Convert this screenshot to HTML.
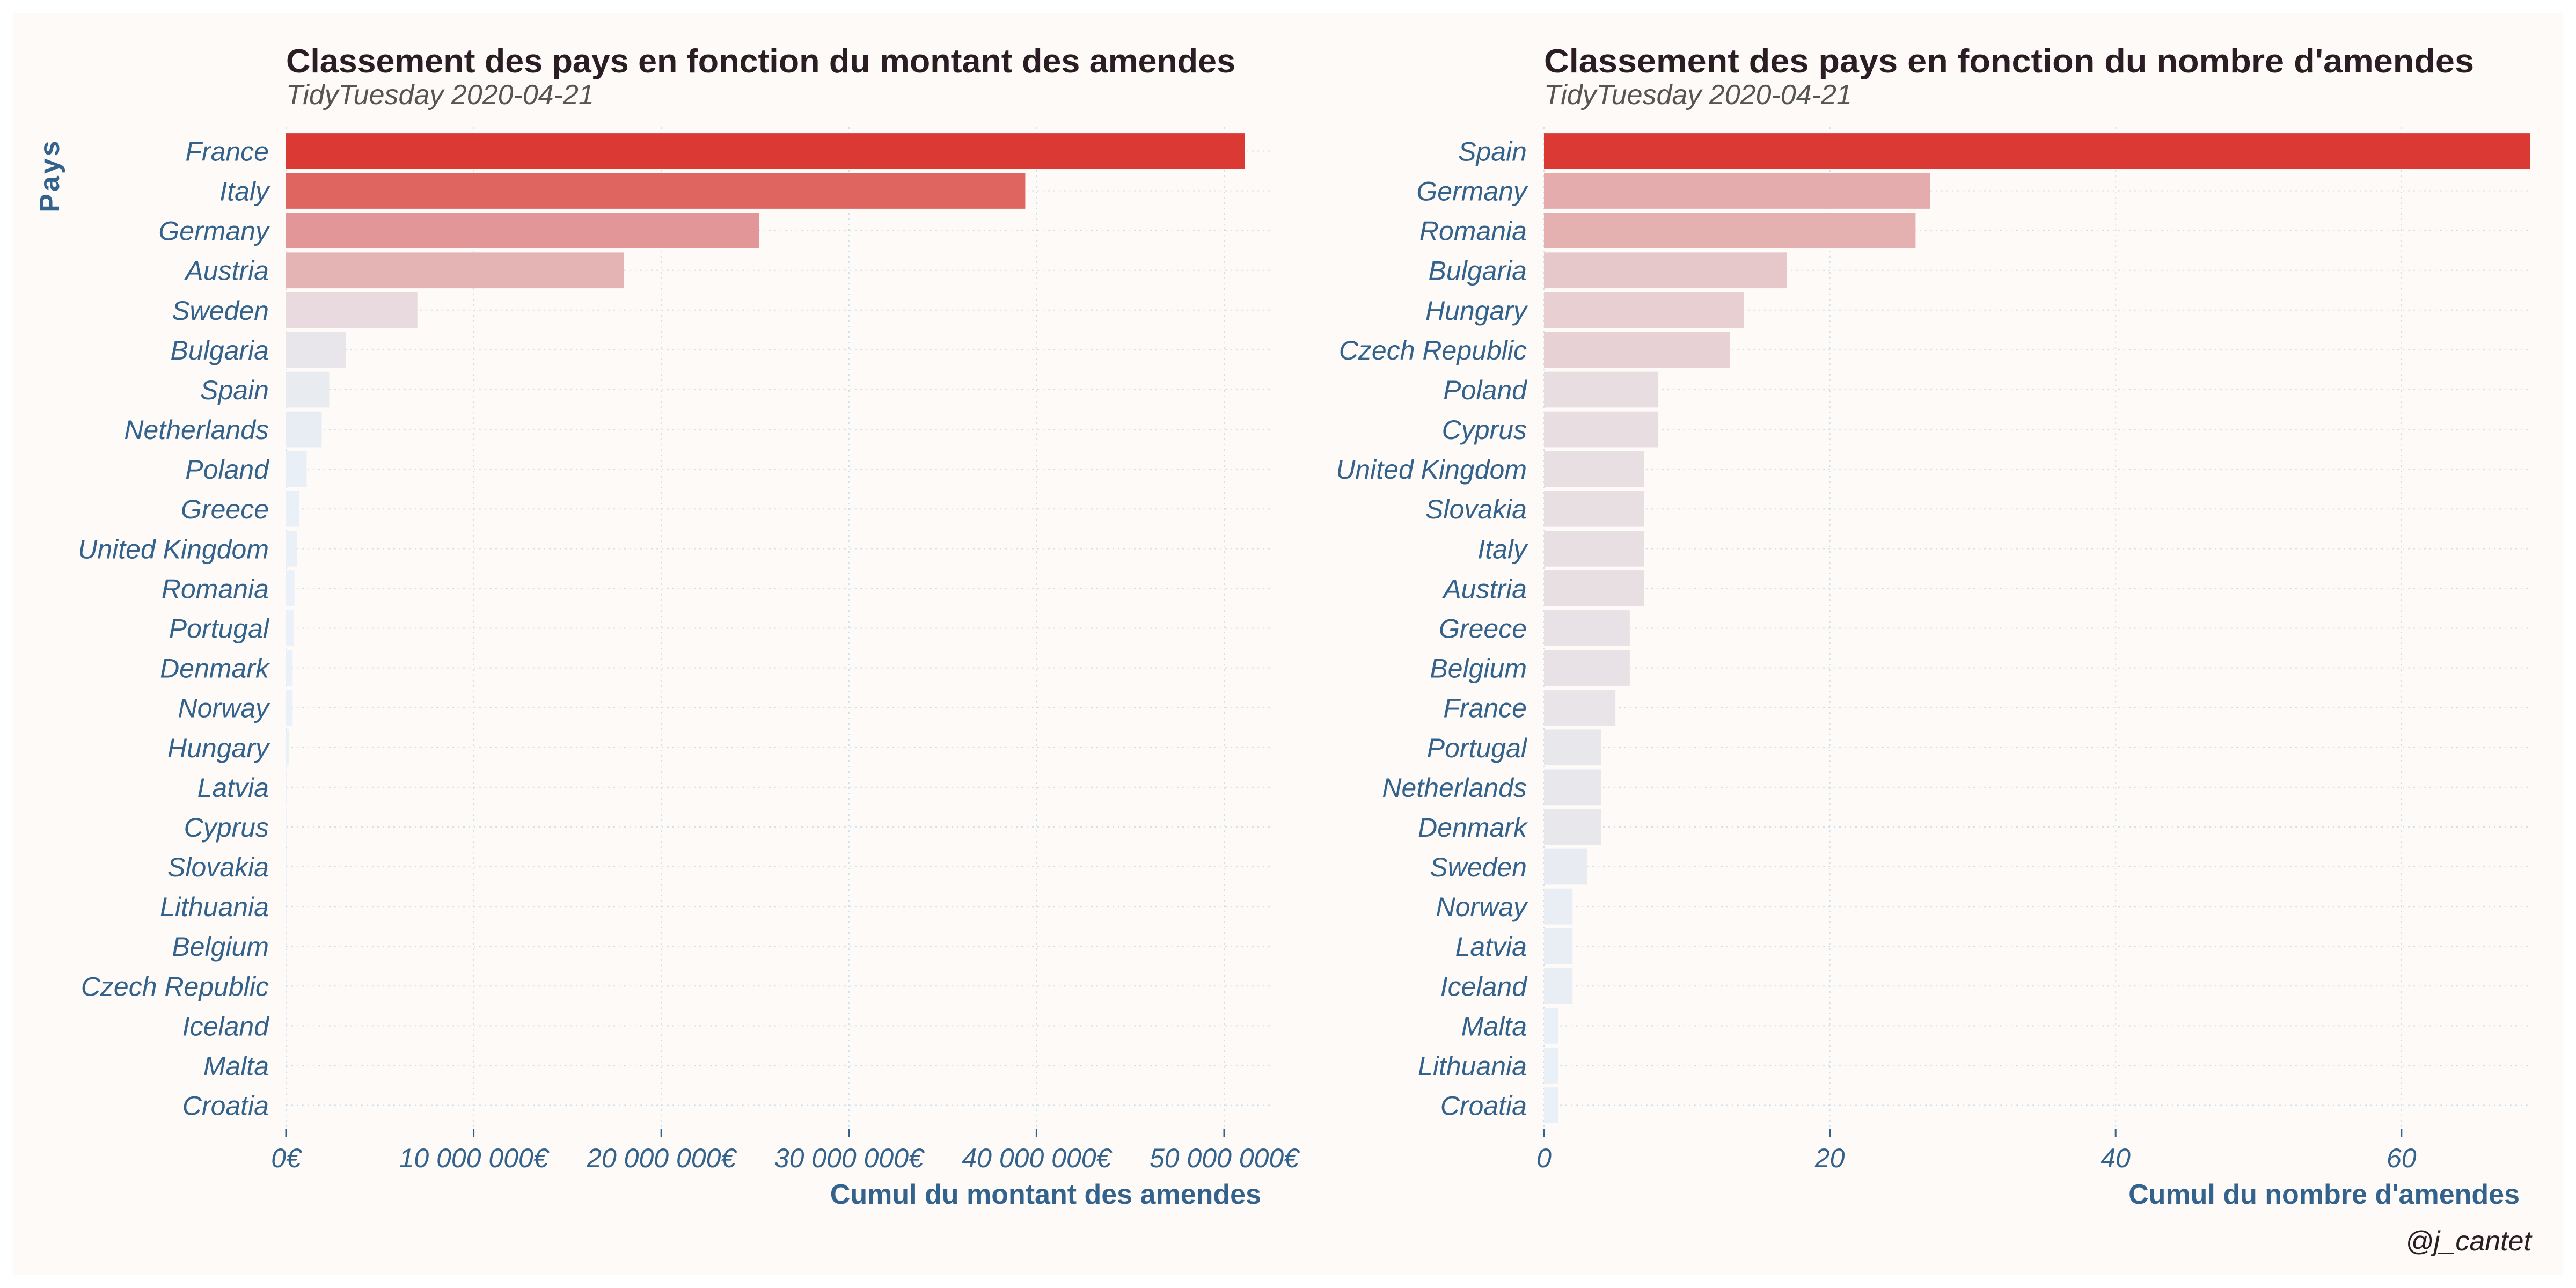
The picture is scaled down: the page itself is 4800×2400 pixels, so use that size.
<!DOCTYPE html>
<html><head><meta charset="utf-8"><style>
html,body{margin:0;padding:0;background:#fff;}
svg{display:block;}
text{font-family:"Liberation Sans",sans-serif;}
</style></head><body>
<svg id="chart" width="4800" height="2400" viewBox="0 0 4800 2400" xmlns="http://www.w3.org/2000/svg">
<rect x="25" y="25" width="4750" height="2350" fill="#fdfaf7"/>
<g id="left"></g><g id="right"></g>
<text x="533" y="135" font-size="62" font-weight="bold" fill="#2b1d24" textLength="1769" lengthAdjust="spacingAndGlyphs">Classement des pays en fonction du montant des amendes</text>
<text x="533" y="194" font-size="52" font-style="italic" fill="#555">TidyTuesday 2020-04-21</text>
<text x="2877" y="135" font-size="62" font-weight="bold" fill="#2b1d24" textLength="1733" lengthAdjust="spacingAndGlyphs">Classement des pays en fonction du nombre d'amendes</text>
<text x="2877" y="194" font-size="52" font-style="italic" fill="#555">TidyTuesday 2020-04-21</text>
<text transform="translate(110,327) rotate(-90)" text-anchor="middle" font-size="52" font-weight="bold" fill="#33628c" letter-spacing="4">Pays</text>
<text x="2350" y="2243" text-anchor="end" font-size="52" font-weight="bold" fill="#33628c">Cumul du montant des amendes</text>
<text x="4695" y="2243" text-anchor="end" font-size="52" font-weight="bold" fill="#33628c">Cumul du nombre d'amendes</text>
<text x="4717" y="2330" text-anchor="end" font-size="52" font-style="italic" fill="#2b1d24">@j_cantet</text>
</svg>
<script>
const leftCountries = ["France","Italy","Germany","Austria","Sweden","Bulgaria","Spain","Netherlands","Poland","Greece","United Kingdom","Romania","Portugal","Denmark","Norway","Hungary","Latvia","Cyprus","Slovakia","Lithuania","Belgium","Czech Republic","Iceland","Malta","Croatia"];
const leftValues = [51100000,39400000,25200000,18000000,7000000,3200000,2300000,1900000,1100000,700000,600000,450000,400000,350000,350000,150000,50000,40000,30000,20000,10000,10000,5000,3000,2000];
const leftTicks = [0,10000000,20000000,30000000,40000000,50000000];
const leftTickLabels = ["0€","10 000 000€","20 000 000€","30 000 000€","40 000 000€","50 000 000€"];
const rightCountries = ["Spain","Germany","Romania","Bulgaria","Hungary","Czech Republic","Poland","Cyprus","United Kingdom","Slovakia","Italy","Austria","Greece","Belgium","France","Portugal","Netherlands","Denmark","Sweden","Norway","Latvia","Iceland","Malta","Lithuania","Croatia"];
const rightValues = [69,27,26,17,14,13,8,8,7,7,7,7,6,6,5,4,4,4,3,2,2,2,1,1,1];
const rightTicks = [0,20,40,60];
const rightTickLabels = ["0","20","40","60"];

const NS="http://www.w3.org/2000/svg";
const stops=[[0,[234,242,250]],[0.04,[232,236,242]],[0.07,[232,228,232]],[0.15,[232,216,220]],[0.37,[228,177,178]],[0.5,[227,149,149]],[0.77,[223,101,96]],[1,[219,58,52]]];
function colorFor(f){
  for(let i=1;i<stops.length;i++){if(f<=stops[i][0]){const a=stops[i-1],b=stops[i];const t=(f-a[0])/(b[0]-a[0]);
    return "rgb("+a[1].map((v,k)=>Math.round(v+(b[1][k]-v)*t)).join(",")+")";}}
  return "rgb(219,58,52)";
}
function mk(tag,attrs,parent){const e=document.createElementNS(NS,tag);for(const k in attrs)e.setAttribute(k,attrs[k]);parent.appendChild(e);return e;}
const plotTop=237,plotBottom=2104;
function panel(g,countries,values,ticks,labels,x0,x1,maxV,prefix){
  const xs=v=>x0+(v/maxV)*(x1-x0);
  const n=countries.length;const step=(plotBottom-plotTop)/(n+0.2);
  const ys=i=>plotTop+step*(0.6+i);
  const vmax=Math.max(...values);
  ticks.forEach((t,i)=>{
    const l=mk("line",{x1:xs(t),x2:xs(t),y1:plotTop,y2:plotBottom,stroke:"#b5d5f0","stroke-width":2,"stroke-dasharray":"3,7","stroke-opacity":0.7},g);
    
    
    const tk=mk("line",{x1:xs(t),x2:xs(t),y1:plotBottom,y2:plotBottom+14,stroke:"#33628c","stroke-width":3},g);
    
    
    const tx=mk("text",{x:xs(t),y:2175,"text-anchor":"middle","font-size":50,"font-style":"italic",fill:"#33628c"},g);
    tx.textContent=labels[i];
    
    
  });
  countries.forEach((c,i)=>{
    const y=ys(i);
    const gl=mk("line",{x1:x0,x2:x1,y1:y,y2:y,stroke:"#b5d5f0","stroke-width":2,"stroke-dasharray":"3,7","stroke-opacity":0.7},g);
    
    
  });
  countries.forEach((c,i)=>{
    const y=ys(i);const h=step*0.9;
    const r=mk("rect",{x:x0,y:y-h/2,width:Math.max(0,xs(values[i])-x0),height:h,fill:colorFor(values[i]/vmax)},g);
    
    
    const t=mk("text",{x:x0-32,y:y+18,"text-anchor":"end","font-size":50,"font-style":"italic",fill:"#33628c"},g);
    t.textContent=c;
    
    
  });
}
panel(document.getElementById("left"),leftCountries,leftValues,leftTicks,leftTickLabels,533,2373,(2373-533)/349.6*10000000,"amount");
panel(document.getElementById("right"),rightCountries,rightValues,rightTicks,rightTickLabels,2877,4714,(4714-2877)/26.63,"count");
</script>
</body></html>
